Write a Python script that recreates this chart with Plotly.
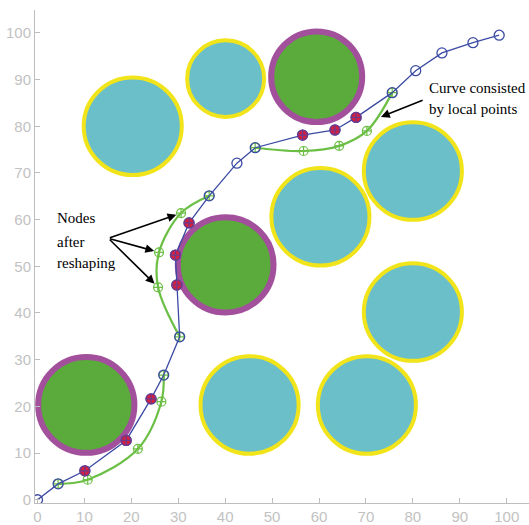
import plotly.graph_objects as go

# Obstacle discs: centre, radius (data units), kind
cyan_x = [20.3, 40.1, 80.0, 60.3, 80.0, 45.2, 70.2]
cyan_y = [80.0, 90.2, 70.4, 60.6, 40.2, 20.3, 20.3]
cyan_r = [10.45, 8.2, 10.45, 10.45, 10.45, 10.45, 10.45]

green_x = [59.5, 40.1, 10.4]
green_y = [90.6, 50.3, 20.3]
green_r = [9.7, 10.2, 10.25]

# Original path nodes (blue) and nodes touching obstacles (red)
path_x = [0.0, 4.4, 10.1, 18.9, 24.2, 26.9, 30.3, 29.7, 29.4, 32.3, 36.6, 42.5,
          46.4, 56.5, 63.4, 67.9, 75.6, 80.6, 86.2, 92.8, 98.4]
path_y = [0.0, 3.4, 6.2, 12.7, 21.6, 26.7, 34.9, 46.0, 52.4, 59.3, 65.1, 72.1,
          75.4, 78.1, 79.2, 81.9, 87.2, 91.9, 95.7, 97.9, 99.5]
touch_idx = [2, 3, 4, 7, 8, 9, 13, 14, 15]

# Reshaped local curves (start/end on the path)
seg1_x = [4.4, 10.7, 21.4, 26.4, 26.9]
seg1_y = [3.4, 4.3, 10.9, 21.0, 26.7]
seg2_x = [30.3, 25.7, 25.9, 30.6, 36.6]
seg2_y = [34.9, 45.5, 53.0, 61.4, 65.1]
seg3_x = [46.4, 56.7, 64.3, 70.2, 75.6]
seg3_y = [75.4, 74.7, 75.8, 79.0, 87.2]

tick_vals = list(range(0, 101, 10))

CYAN, YELLOW = "#6bbfc9", "#f1e41b"
GREEN, PURPLE = "#5aab3b", "#a2509c"
NAVY, RED, LGREEN = "#3b4aa3", "#d3203f", "#6cbf45"

fig = go.Figure()

shapes = []
for cx, cy, r in zip(cyan_x, cyan_y, cyan_r):
    shapes.append(dict(type="circle", xref="x", yref="y", x0=cx - r, x1=cx + r,
                       y0=cy - r, y1=cy + r, fillcolor=CYAN,
                       line=dict(color=YELLOW, width=4), layer="below"))
for cx, cy, r in zip(green_x, green_y, green_r):
    shapes.append(dict(type="circle", xref="x", yref="y", x0=cx - r, x1=cx + r,
                       y0=cy - r, y1=cy + r, fillcolor=GREEN,
                       line=dict(color=PURPLE, width=6), layer="below"))

# Reshaped curves
gx, gy = [], []
for sx, sy in [(seg1_x, seg1_y), (seg2_x, seg2_y), (seg3_x, seg3_y)]:
    gx += sx + [None]
    gy += sy + [None]
fig.add_trace(go.Scatter(
    x=gx, y=gy, mode="lines+markers", connectgaps=False,
    line=dict(color=LGREEN, width=2.2, shape="spline", smoothing=1.0),
    marker=dict(symbol="circle-cross-open", size=9, color=LGREEN,
                line=dict(width=1.2, color=LGREEN)),
    hoverinfo="skip", showlegend=False))

# Original path
fig.add_trace(go.Scatter(
    x=path_x, y=path_y, mode="lines+markers",
    line=dict(color=NAVY, width=1.3),
    marker=dict(symbol="circle-open", size=10, color=NAVY,
                line=dict(width=1.3, color=NAVY)),
    hoverinfo="skip", showlegend=False))

fig.add_trace(go.Scatter(
    x=[path_x[i] for i in touch_idx], y=[path_y[i] for i in touch_idx],
    mode="markers",
    marker=dict(symbol="circle-cross", size=10, color=RED,
                line=dict(width=1.2, color="#6a3a8f")),
    hoverinfo="skip", showlegend=False))

text_font = dict(family="Liberation Serif, Times New Roman, serif", size=15, color="black")
annotations = []
for txt, y in [("Nodes", 60.3), ("after", 55.3), ("reshaping", 50.65)]:
    annotations.append(dict(x=3.8, y=y, xref="x", yref="y", text=txt, showarrow=False,
                            xanchor="left", yanchor="middle", font=text_font))
for txt, y in [("Curve consisted", 88.3), ("by local points", 83.7)]:
    annotations.append(dict(x=83.0, y=y, xref="x", yref="y", text=txt, showarrow=False,
                            xanchor="left", yanchor="middle", font=text_font))

# Arrows to the reshaped nodes of the middle curve
for i in (3, 2, 1):
    annotations.append(dict(x=seg2_x[i], y=seg2_y[i], xref="x", yref="y",
                            ax=15.1, ay=56.0, axref="x", ayref="y", text="",
                            showarrow=True, arrowhead=2, arrowsize=1.1, arrowwidth=1.6,
                            arrowcolor="black", standoff=5))
annotations.append(dict(x=73.2, y=82.0, xref="x", yref="y",
                        ax=82.4, ay=85.7, axref="x", ayref="y", text="",
                        showarrow=True, arrowhead=2, arrowsize=1.1, arrowwidth=1.6,
                        arrowcolor="black", standoff=0))

axis_common = dict(showline=True, linecolor="#bdbdbd", linewidth=1, mirror=False,
                   ticks="inside", ticklen=5, tickcolor="#bdbdbd", tickwidth=1,
                   showgrid=False, zeroline=False, tickvals=tick_vals,
                   tickfont=dict(family="Liberation Sans Narrow, Arial Narrow, Liberation Sans, sans-serif",
                                 size=15, color="#c2c2c2"))

fig.update_layout(
    width=529, height=525,
    margin=dict(l=35, r=0, t=10, b=22),
    paper_bgcolor="white", plot_bgcolor="white",
    shapes=shapes, annotations=annotations,
    xaxis=dict(range=[-0.53, 104.75], **axis_common),
    yaxis=dict(range=[-0.7, 104.9], **axis_common),
)

fig.write_html("out.html")
